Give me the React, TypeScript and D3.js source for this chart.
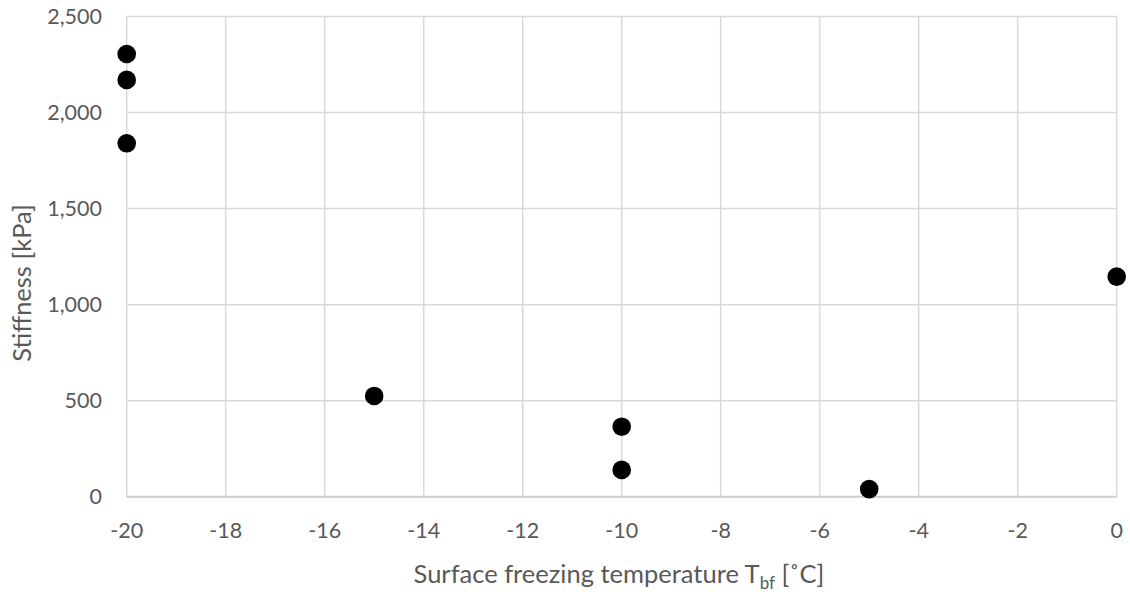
import React from "react";
import * as d3 from "d3";

const temperatures = [-20, -20, -20, -15, -10, -10, -5, 0];
const stiffness = [2305, 2170, 1840, 525, 365, 140, 40, 1146];
const xTicks = [-20, -18, -16, -14, -12, -10, -8, -6, -4, -2, 0];
const yTicks = [0, 500, 1000, 1500, 2000, 2500];

const W = 1130;
const H = 592;
const FONT = "Lato, 'Open Sans', sans-serif";

export default function App() {
  const x = d3.scaleLinear().domain([-20, 0]).range([126.7, 1116.7]);
  const y = d3.scaleLinear().domain([0, 2500]).range([496.8, 16.5]);
  const fmt = d3.format(",");

  return (
    <svg
      width={W}
      height={H}
      style={{ position: "absolute", left: 0, top: 0, background: "#fff" }}
    >
      {yTicks.map((t) => (
        <line
          key={"gy" + t}
          x1={x(-20)}
          x2={x(0)}
          y1={y(t)}
          y2={y(t)}
          stroke="#d9d9d9"
          strokeWidth={1.5}
        />
      ))}
      {xTicks.map((t) => (
        <line
          key={"gx" + t}
          x1={x(t)}
          x2={x(t)}
          y1={y(0)}
          y2={y(2500)}
          stroke="#d9d9d9"
          strokeWidth={1.5}
        />
      ))}
      <line x1={x(-20)} x2={x(0)} y1={y(0)} y2={y(0)} stroke="#cfcfcf" strokeWidth={2} />
      {yTicks.map((t) => (
        <text
          key={"ty" + t}
          x={102}
          y={y(t)}
          dy="0.35em"
          textAnchor="end"
          fontFamily={FONT}
          fontSize={21.5}
          fill="#595959"
        >
          {fmt(t)}
        </text>
      ))}
      {xTicks.map((t) => (
        <text
          key={"tx" + t}
          x={x(t)}
          y={530}
          dy="0.35em"
          textAnchor="middle"
          fontFamily={FONT}
          fontSize={21.5}
          fill="#595959"
        >
          {t}
        </text>
      ))}
      <text
        transform={`translate(31,${283}) rotate(-90)`}
        textAnchor="middle"
        fontFamily={FONT}
        fontSize={25.5}
        fill="#595959"
      >
        Stiffness [kPa]
      </text>
      <text
        x={619}
        y={583}
        textAnchor="middle"
        fontFamily={FONT}
        fontSize={25.5}
        fill="#595959"
      >
        Surface freezing temperature T
        <tspan fontSize={17} dy={6}>bf</tspan>
        <tspan dy={-6}> [˚C]</tspan>
      </text>
      {temperatures.map((t, i) => (
        <circle key={"p" + i} cx={x(t)} cy={y(stiffness[i])} r={9.3} fill="#000" />
      ))}
    </svg>
  );
}
